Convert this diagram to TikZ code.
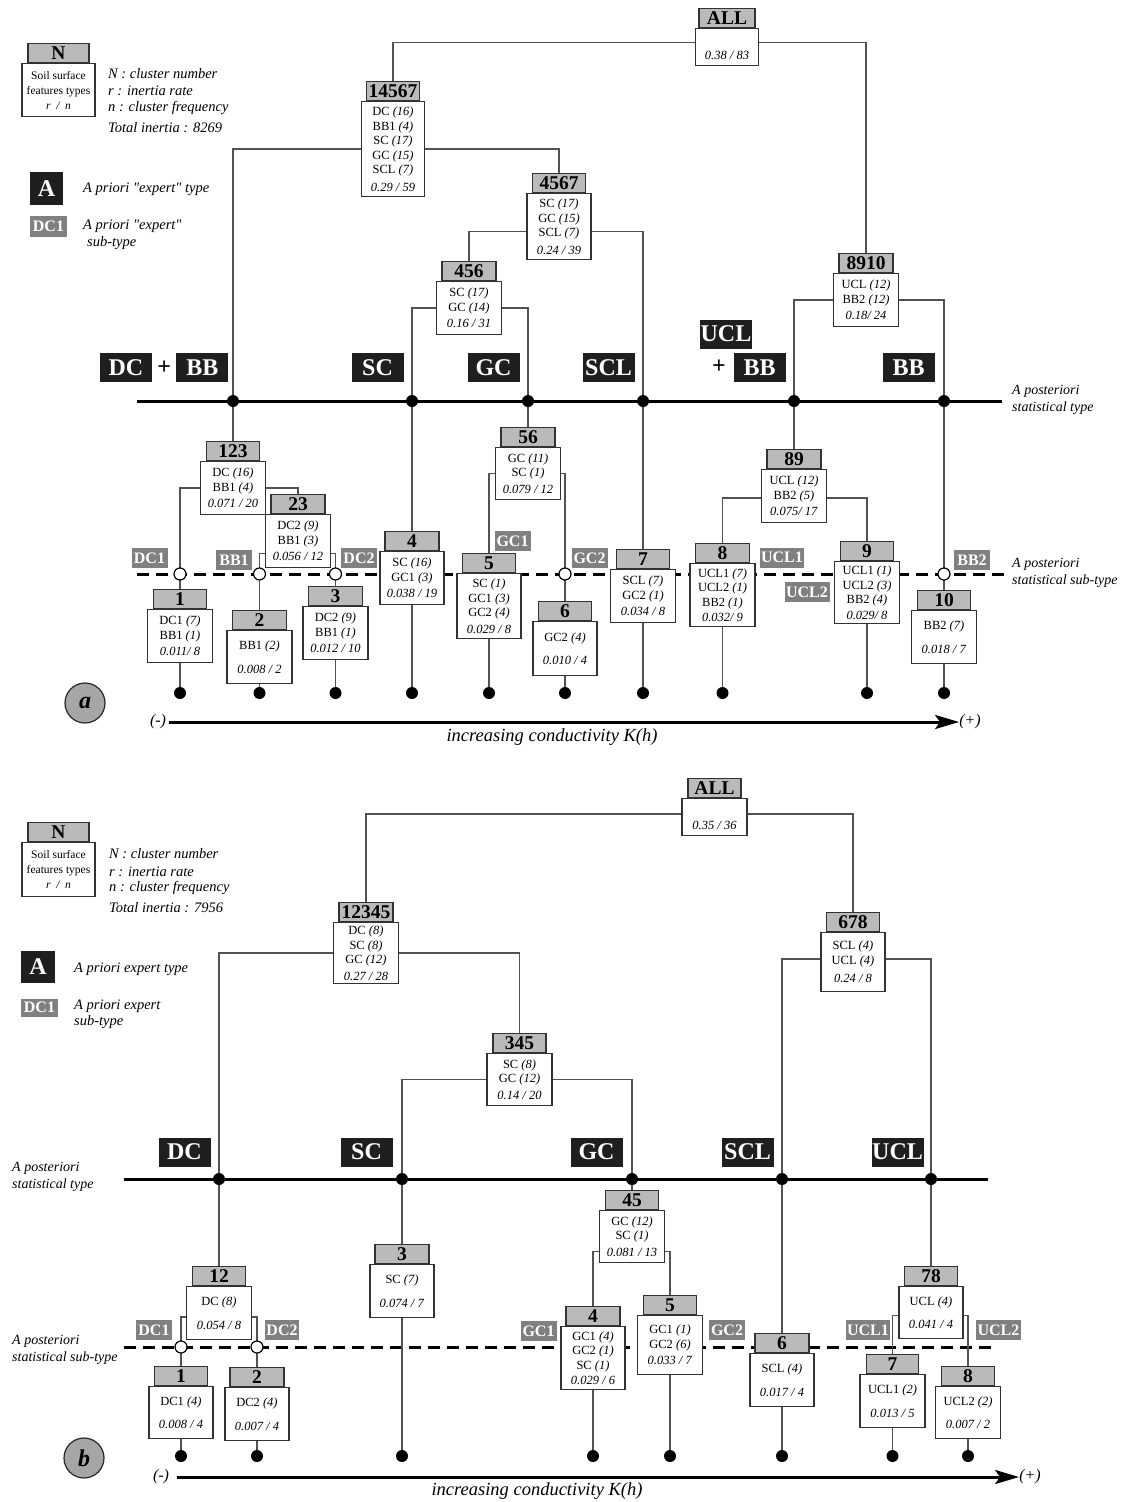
\documentclass[tikz,border=0pt]{standalone}
\usepackage{fontspec}
\setmainfont{Liberation Serif}
\usepackage{tikz}
\usetikzlibrary{positioning,arrows.meta}

\begin{document}
\begin{tikzpicture}[x=1pt, y=-1pt,
    ln/.style={draw=black!68, line width=1.5pt},
    bx/.style={draw=black!80, fill=white, line width=1.2pt, align=center, inner sep=1pt, anchor=north, font=\fontsize{12.5}{14.5}\selectfont},
    hd/.style={draw=black!80, fill=black!27, line width=1.2pt, inner sep=0pt, minimum height=19pt, font=\bfseries\fontsize{19.5}{19.5}\selectfont},
    typ/.style={fill=black!88, text=white, inner sep=0pt, minimum height=29pt, minimum width=52pt, font=\bfseries\fontsize{24}{24}\selectfont},
    sub/.style={fill=black!50, text=white, inner sep=0pt, minimum height=20pt, minimum width=36pt, font=\bfseries\fontsize{16}{16}\selectfont},
    note/.style={anchor=west, align=left, inner sep=0pt, font=\itshape\fontsize{14.5}{17}\selectfont},
    side/.style={anchor=west, align=left, inner sep=0pt, font=\itshape\fontsize{14}{16.5}\selectfont},
    sign/.style={inner sep=0pt, font=\itshape\fontsize{16}{16}\selectfont},
    axis/.style={line width=3pt},
    sdash/.style={line width=3pt, dash pattern=on 12pt off 7pt},
    hole/.style={draw=black, fill=white, line width=1.2pt},
    arr/.style={line width=3pt, -{Stealth[length=24pt, width=14pt, inset=5pt]}},
    tag/.style={circle, draw=black!85, fill=black!35, line width=1.2pt, minimum size=40pt, inner sep=0pt, font=\bfseries\itshape\fontsize{24}{24}\selectfont}]
\useasboundingbox (0,0) rectangle (1125,1502);

%%%%% (a)
\coordinate (as0) at (137,401); \coordinate (as1) at (1002,401);
\coordinate (ad0) at (137,574); \coordinate (ad1) at (1007,574);
\draw[axis] (as0) -- (as1);
\draw[sdash] (ad0) -- (ad1);
\coordinate (pa1) at (233,401); \coordinate (pa2) at (412,401); \coordinate (pa3) at (528,401);
\coordinate (pa4) at (643,401); \coordinate (pa5) at (794,401); \coordinate (pa6) at (944,401);
\coordinate (oa1) at (180,574); \coordinate (oa2) at (259.5,574); \coordinate (oa3) at (335.5,574);
\coordinate (oa4) at (565,574); \coordinate (oa5) at (944,574);

% legend
\node[bx, minimum width=73pt, minimum height=53pt, font=\fontsize{11.5}{15}\selectfont] (aleg) at (58.5,63) {Soil surface\\features types\\\textit{r~~/~~n}};
\node[hd, minimum width=61pt, above=0pt of aleg] (alegh) {N};
\node[note] (aleg1) at (108,74) {N : cluster number};
\node[note] (aleg2) at (108,91) {r : inertia rate};
\node[note] (aleg3) at (108,108) {n : cluster frequency};
\node[note] (aleg4) at (108,128) {Total inertia : 8269};
\node[typ, minimum width=33pt, minimum height=33pt] (alegA) at (46.5,188.5) {A};
\node[note] (aleg5) at (83,189) {A priori \textquotedbl expert\textquotedbl{} type};
\node[sub, minimum width=37pt, minimum height=21pt] (alegS) at (48.5,226.5) {DC1};
\node[note] (aleg6) at (83,226) {A priori \textquotedbl expert\textquotedbl};
\node[note] (aleg7) at (87,243) {sub-type};

% types
\node[typ] (aDC) at (126,367.5) {DC};
\node[right=5pt of aDC, inner sep=0pt, font=\bfseries\fontsize{24}{24}\selectfont] (aand1) {+};
\node[typ, right=5pt of aand1] (aBB1) {BB};
\node[typ] (aSC) at (377.5,367.5) {SC};
\node[typ] (aGC) at (493.5,367.5) {GC};
\node[typ] (aSCL) at (608.5,367.5) {SCL};
\node[typ] (aUCL) at (726,334) {UCL};
\node[inner sep=0pt, font=\bfseries\fontsize{24}{24}\selectfont] (aand2) at (719,367) {+};
\node[typ] (aBB2) at (759.5,367.5) {BB};
\node[typ] (aBB3) at (908.5,367.5) {BB};
\node[side] (atype) at (1012,400) {A posteriori\\statistical type};
\node[side] (asubt) at (1012,573) {A posteriori\\statistical sub-type};

% sub-types
\node[sub] (aDC1) at (149.5,558) {DC1};
\node[sub] (aBB1s) at (234,560) {BB1};
\node[sub] (aDC2) at (359,558) {DC2};
\node[sub] (aGC1) at (512.5,541) {GC1};
\node[sub] (aGC2) at (589.5,558) {GC2};
\node[sub, minimum width=44pt] (aUCL1) at (782,557.5) {UCL1};
\node[sub, minimum width=45pt] (aUCL2) at (807,592) {UCL2};
\node[sub] (aBB2s) at (972,560) {BB2};

% clusters
\node[bx, minimum width=63pt, minimum height=37pt] (aALL) at (727,28) {\strut\\\textit{0.38 / 83}};
\node[hd, minimum width=56pt, above=0pt of aALL] (aALLh) {ALL};
\node[bx, minimum width=63pt, minimum height=95pt] (a14567) at (393,101) {DC \textit{(16)}\\BB1 \textit{(4)}\\SC \textit{(17)}\\GC \textit{(15)}\\SCL \textit{(7)}\\[3pt]\textit{0.29 / 59}};
\node[hd, minimum width=53pt, above=0pt of a14567] (a14567h) {14567};
\node[bx, minimum width=64pt, minimum height=66pt] (a4567) at (559,193) {SC \textit{(17)}\\GC \textit{(15)}\\SCL \textit{(7)}\\[3pt]\textit{0.24 / 39}};
\node[hd, minimum width=53pt, above=0pt of a4567] (a4567h) {4567};
\node[bx, minimum width=65pt, minimum height=53pt] (a456) at (469,281) {SC \textit{(17)}\\GC \textit{(14)}\\[2pt]\textit{0.16 / 31}};
\node[hd, minimum width=54pt, above=0pt of a456] (a456h) {456};
\node[bx, minimum width=65pt, minimum height=53pt] (a8910) at (866,273) {UCL \textit{(12)}\\BB2 \textit{(12)}\\[2pt]\textit{0.18/ 24}};
\node[hd, minimum width=54pt, above=0pt of a8910] (a8910h) {8910};
\node[bx, minimum width=65pt, minimum height=53pt] (a123) at (233,461) {DC \textit{(16)}\\BB1 \textit{(4)}\\[2pt]\textit{0.071 / 20}};
\node[hd, minimum width=53pt, above=0pt of a123] (a123h) {123};
\node[bx, minimum width=65pt, minimum height=53pt] (a23) at (298,514) {DC2 \textit{(9)}\\BB1 \textit{(3)}\\[2pt]\textit{0.056 / 12}};
\node[hd, minimum width=54pt, above=0pt of a23] (a23h) {23};
\node[bx, minimum width=65pt, minimum height=52pt] (a56) at (528,447) {GC \textit{(11)}\\SC \textit{(1)}\\[2pt]\textit{0.079 / 12}};
\node[hd, minimum width=54pt, above=0pt of a56] (a56h) {56};
\node[bx, minimum width=65pt, minimum height=53pt] (a89) at (794,469) {UCL \textit{(12)}\\BB2 \textit{(5)}\\[2pt]\textit{0.075/ 17}};
\node[hd, minimum width=54pt, above=0pt of a89] (a89h) {89};
\node[bx, minimum width=65pt, minimum height=53pt] (a1) at (180,609) {DC1 \textit{(7)}\\BB1 \textit{(1)}\\[2pt]\textit{0.011/ 8}};
\node[hd, minimum width=53pt, above=0pt of a1] (a1h) {1};
\node[bx, minimum width=65pt, minimum height=53pt] (a2) at (259.5,630) {BB1 \textit{(2)}\\[9pt]\textit{0.008 / 2}};
\node[hd, minimum width=54pt, above=0pt of a2] (a2h) {2};
\node[bx, minimum width=65pt, minimum height=53pt] (a3) at (335.5,606) {DC2 \textit{(9)}\\BB1 \textit{(1)}\\[2pt]\textit{0.012 / 10}};
\node[hd, minimum width=54pt, above=0pt of a3] (a3h) {3};
\node[bx, minimum width=64pt, minimum height=53pt] (a4) at (412,551) {SC \textit{(16)}\\GC1 \textit{(3)}\\[2pt]\textit{0.038 / 19}};
\node[hd, minimum width=54pt, above=0pt of a4] (a4h) {4};
\node[bx, minimum width=64pt, minimum height=65pt] (a5) at (489,573) {SC \textit{(1)}\\GC1 \textit{(3)}\\GC2 \textit{(4)}\\[2pt]\textit{0.029 / 8}};
\node[hd, minimum width=53pt, above=0pt of a5] (a5h) {5};
\node[bx, minimum width=64pt, minimum height=54pt] (a6) at (565,621) {GC2 \textit{(4)}\\[9pt]\textit{0.010 / 4}};
\node[hd, minimum width=53pt, above=0pt of a6] (a6h) {6};
\node[bx, minimum width=65pt, minimum height=53pt] (a7) at (643,569) {SCL \textit{(7)}\\GC2 \textit{(1)}\\[2pt]\textit{0.034 / 8}};
\node[hd, minimum width=53pt, above=0pt of a7] (a7h) {7};
\node[bx, minimum width=65pt, minimum height=63pt] (a8) at (722.5,563) {UCL1 \textit{(7)}\\UCL2 \textit{(1)}\\BB2 \textit{(1)}\\[1pt]\textit{0.032/ 9}};
\node[hd, minimum width=54pt, above=0pt of a8] (a8h) {8};
\node[bx, minimum width=65pt, minimum height=62pt] (a9) at (867,561) {UCL1 \textit{(1)}\\UCL2 \textit{(3)}\\BB2 \textit{(4)}\\[1pt]\textit{0.029/ 8}};
\node[hd, minimum width=53pt, above=0pt of a9] (a9h) {9};
\node[bx, minimum width=65pt, minimum height=53pt] (a10) at (944,610) {BB2 \textit{(7)}\\[9pt]\textit{0.018 / 7}};
\node[hd, minimum width=53pt, above=0pt of a10] (a10h) {10};

% links
\draw[ln] ([yshift=4.5pt]aALL.west) -| (a14567h.north);
\draw[ln] ([yshift=4.5pt]aALL.east) -| (a8910h.north);
\draw[ln] (a14567.west) -| (pa1);
\draw[ln] (a14567.east) -| (a4567h.north);
\draw[ln] ([yshift=-5pt]a4567.west) -| (a456h.north);
\draw[ln] ([yshift=-5pt]a4567.east) -| (pa4);
\draw[ln] (a456.west) -| (pa2);
\draw[ln] (a456.east) -| (pa3);
\draw[ln] (a8910.west) -| (pa5);
\draw[ln] (a8910.east) -| (pa6);
\draw[ln] (pa1) -- (a123h.north);
\draw[ln] (a123.west) -| (oa1) -- (a1h.north);
\draw[ln] (a123.east) -| (a23h.north);
\draw[ln] ([yshift=-12.5pt]a23.west) -| (oa2) -- (a2h.north);
\draw[ln] ([yshift=-12.5pt]a23.east) -| (oa3) -- (a3h.north);
\draw[ln] (pa2) -- (a4h.north);
\draw[ln] (pa3) -- (a56h.north);
\draw[ln] (a56.west) -| (a5h.north);
\draw[ln] (a56.east) -| (oa4) -- (a6h.north);
\draw[ln] (pa4) -- (a7h.north);
\draw[ln] (pa5) -- (a89h.north);
\draw[ln] ([yshift=-2pt]a89.west) -| (a8h.north);
\draw[ln] ([yshift=-2pt]a89.east) -| (a9h.north);
\draw[ln] (pa6) -- (oa5) -- (a10h.north);
\foreach \i in {1,...,10} {
  \draw[ln] (a\i.south) -- (a\i.south |- 0,693);
  \fill (a\i.south |- 0,693) circle[radius=6pt];
}
\foreach \i in {1,...,6} \fill (pa\i) circle[radius=6pt];
\foreach \i in {1,...,5} \draw[hole] (oa\i) circle[radius=6pt];

\node[tag] (atag) at (85,703) {a};
\node[sign] (aminus) at (158,722) {(-)};
\node[sign] (aplus) at (970,722) {(+)};
\draw[arr, shorten <=3pt] (aminus) -- (aplus);
\node[font=\itshape\fontsize{18.5}{18.5}\selectfont] (axlab) at (552,737) {increasing conductivity K(h)};

%%%%% (b)
\coordinate (bs0) at (124,1179); \coordinate (bs1) at (988,1179);
\coordinate (bd0) at (124,1347); \coordinate (bd1) at (993,1347);
\draw[axis] (bs0) -- (bs1);
\draw[sdash] (bd0) -- (bd1);
\coordinate (pb1) at (219,1179); \coordinate (pb2) at (402,1179); \coordinate (pb3) at (632,1179);
\coordinate (pb4) at (782,1179); \coordinate (pb5) at (931,1179);
\coordinate (ob1) at (181,1347); \coordinate (ob2) at (257,1347);

% legend
\node[bx, minimum width=73pt, minimum height=54pt, font=\fontsize{11.5}{15}\selectfont] (bleg) at (58.5,842) {Soil surface\\features types\\\textit{r~~/~~n}};
\node[hd, minimum width=61pt, above=0pt of bleg] (blegh) {N};
\node[note] (bleg1) at (109,854) {N : cluster number};
\node[note] (bleg2) at (109,872) {r : inertia rate};
\node[note] (bleg3) at (109,888) {n : cluster frequency};
\node[note] (bleg4) at (109,908) {Total inertia : 7956};
\node[typ, minimum width=34pt, minimum height=32pt] (blegA) at (38,967) {A};
\node[note] (bleg5) at (74,969) {A priori expert type};
\node[sub, minimum width=37pt, minimum height=18pt] (blegS) at (39.5,1007.5) {DC1};
\node[note] (bleg6) at (74,1006) {A priori expert};
\node[note] (bleg7) at (74,1022) {sub-type};

% types
\node[typ] (bDC) at (184.5,1152) {DC};
\node[typ] (bSC) at (366.5,1152) {SC};
\node[typ] (bGC) at (596.5,1152) {GC};
\node[typ] (bSCL) at (747.5,1152) {SCL};
\node[typ] (bUCL) at (897.5,1152) {UCL};
\node[side] (btype) at (12,1177) {A posteriori\\statistical type};
\node[side] (bsubt) at (12,1350) {A posteriori\\statistical sub-type};

% sub-types
\node[sub] (bDC1) at (154,1330) {DC1};
\node[sub, minimum width=34pt] (bDC2) at (282,1330) {DC2};
\node[sub] (bGC1) at (538.5,1331) {GC1};
\node[sub] (bGC2) at (727,1330) {GC2};
\node[sub, minimum width=44pt] (bUCL1) at (868,1330) {UCL1};
\node[sub, minimum width=45pt] (bUCL2) at (998.5,1330) {UCL2};

% clusters
\node[bx, minimum width=65pt, minimum height=37pt] (bALL) at (714.5,798) {\strut\\\textit{0.35 / 36}};
\node[hd, minimum width=53pt, above=0pt of bALL] (bALLh) {ALL};
\node[bx, minimum width=65pt, minimum height=61pt] (b12345) at (366,922) {DC \textit{(8)}\\SC \textit{(8)}\\GC \textit{(12)}\\[2pt]\textit{0.27 / 28}};
\node[hd, minimum width=54pt, above=0pt of b12345] (b12345h) {12345};
\node[bx, minimum width=65pt, minimum height=52pt] (b345) at (519.5,1053) {SC \textit{(8)}\\GC \textit{(12)}\\[2pt]\textit{0.14 / 20}};
\node[hd, minimum width=53pt, above=0pt of b345] (b345h) {345};
\node[bx, minimum width=64pt, minimum height=59pt] (b678) at (853,932) {SCL \textit{(4)}\\UCL \textit{(4)}\\[4pt]\textit{0.24 / 8}};
\node[hd, minimum width=53pt, above=0pt of b678] (b678h) {678};
\node[bx, minimum width=65pt, minimum height=53pt] (b12) at (219,1286) {DC \textit{(8)}\\[9pt]\textit{0.054 / 8}};
\node[hd, minimum width=53pt, above=0pt of b12] (b12h) {12};
\node[bx, minimum width=65pt, minimum height=52pt] (b45) at (632,1210) {GC \textit{(12)}\\SC \textit{(1)}\\[2pt]\textit{0.081 / 13}};
\node[hd, minimum width=53pt, above=0pt of b45] (b45h) {45};
\node[bx, minimum width=64pt, minimum height=52pt] (b78) at (931,1286) {UCL \textit{(4)}\\[9pt]\textit{0.041 / 4}};
\node[hd, minimum width=53pt, above=0pt of b78] (b78h) {78};
\node[bx, minimum width=64pt, minimum height=52pt] (b1) at (181,1386) {DC1 \textit{(4)}\\[9pt]\textit{0.008 / 4}};
\node[hd, minimum width=53pt, above=0pt of b1] (b1h) {1};
\node[bx, minimum width=64pt, minimum height=53pt] (b2) at (257,1387) {DC2 \textit{(4)}\\[9pt]\textit{0.007 / 4}};
\node[hd, minimum width=54pt, above=0pt of b2] (b2h) {2};
\node[bx, minimum width=64pt, minimum height=53pt] (b3) at (402,1264) {SC \textit{(7)}\\[9pt]\textit{0.074 / 7}};
\node[hd, minimum width=54pt, above=0pt of b3] (b3h) {3};
\node[bx, minimum width=64pt, minimum height=63pt] (b4) at (593,1326) {GC1 \textit{(4)}\\GC2 \textit{(1)}\\SC \textit{(1)}\\[1pt]\textit{0.029 / 6}};
\node[hd, minimum width=54pt, above=0pt of b4] (b4h) {4};
\node[bx, minimum width=65pt, minimum height=59pt] (b5) at (670,1315) {GC1 \textit{(1)}\\GC2 \textit{(6)}\\[2pt]\textit{0.033 / 7}};
\node[hd, minimum width=53pt, above=0pt of b5] (b5h) {5};
\node[bx, minimum width=64pt, minimum height=53pt] (b6) at (782,1353) {SCL \textit{(4)}\\[9pt]\textit{0.017 / 4}};
\node[hd, minimum width=54pt, above=0pt of b6] (b6h) {6};
\node[bx, minimum width=65pt, minimum height=53pt] (b7) at (892.5,1374) {UCL1 \textit{(2)}\\[9pt]\textit{0.013 / 5}};
\node[hd, minimum width=52pt, above=0pt of b7] (b7h) {7};
\node[bx, minimum width=65pt, minimum height=52pt] (b8) at (968,1386) {UCL2 \textit{(2)}\\[9pt]\textit{0.007 / 2}};
\node[hd, minimum width=53pt, above=0pt of b8] (b8h) {8};

% links
\draw[ln] ([yshift=3pt]bALL.west) -| (b12345h.north);
\draw[ln] ([yshift=3pt]bALL.east) -| (b678h.north);
\draw[ln] (b12345.west) -| (pb1);
\draw[ln] (b12345.east) -| (b345h.north);
\draw[ln] (b345.west) -| (pb2);
\draw[ln] (b345.east) -| (pb3);
\draw[ln] ([yshift=3pt]b678.west) -| (pb4);
\draw[ln] ([yshift=3pt]b678.east) -| (pb5);
\draw[ln] (pb1) -- (b12h.north);
\draw[ln] ([yshift=-4pt]b12.west) -| (ob1) -- (b1h.north);
\draw[ln] ([yshift=-4pt]b12.east) -| (ob2) -- (b2h.north);
\draw[ln] (pb2) -- (b3h.north);
\draw[ln] (pb3) -- (b45h.north);
\draw[ln] ([yshift=-15pt]b45.west) -| (b4h.north);
\draw[ln] ([yshift=-15pt]b45.east) -| (b5h.north);
\draw[ln] (pb4) -- (b6h.north);
\draw[ln] (pb5) -- (b78h.north);
\draw[ln] ([yshift=-3pt]b78.west) -| (b7h.north);
\draw[ln] ([yshift=-3pt]b78.east) -| (b8h.north);
\foreach \i in {1,...,8} {
  \draw[ln] (b\i.south) -- (b\i.south |- 0,1456);
  \fill (b\i.south |- 0,1456) circle[radius=6pt];
}
\foreach \i in {1,...,5} \fill (pb\i) circle[radius=6pt];
\foreach \i in {1,2} \draw[hole] (ob\i) circle[radius=6pt];

\node[tag] (btag) at (84,1458) {b};
\node[sign] (bminus) at (161,1477) {(-)};
\node[sign] (bplus) at (1030,1477) {(+)};
\draw[arr, shorten <=8pt] (bminus) -- (bplus);
\node[font=\itshape\fontsize{18.5}{18.5}\selectfont] (bxlab) at (537,1491) {increasing conductivity K(h)};
\end{tikzpicture}
\end{document}
